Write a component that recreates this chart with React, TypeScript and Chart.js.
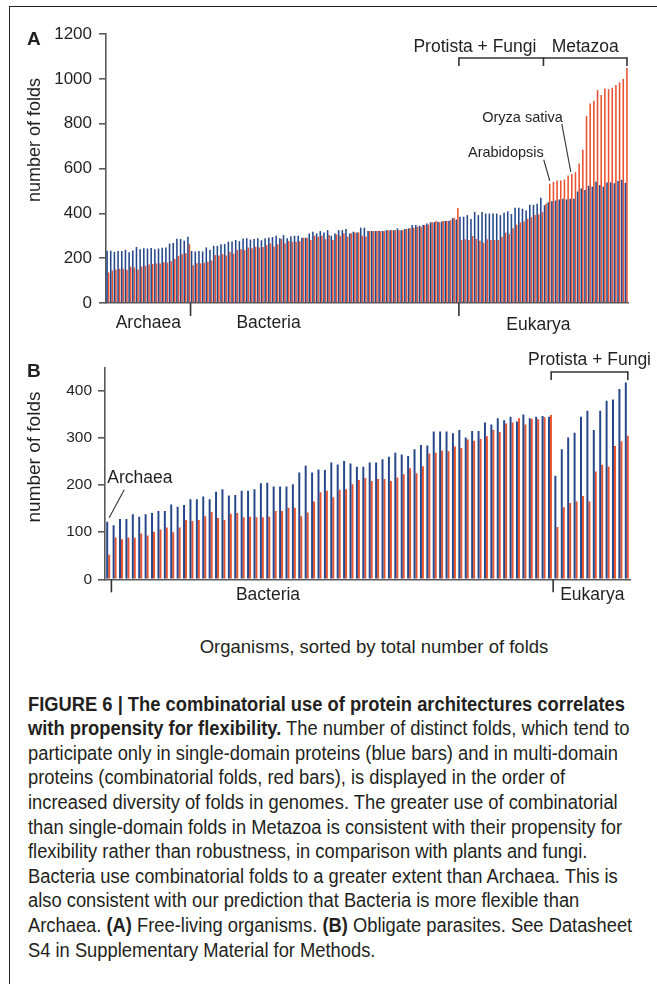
import React, { useEffect, useLayoutEffect, useRef, useState } from "react";
import { Chart, registerables } from "chart.js";
Chart.register(...registerables);

const FONT = '"Liberation Sans", Arial, Helvetica, sans-serif';
const INK = "#231f20";
const AXIS = "#58595b";
const BLUE = "#26488b";
const RED = "#e9532f";

// ---------- Panel A: free-living organisms (blue = single-domain folds, red = combinatorial folds)
const aArchaeaSingle = [233, 233, 228, 232, 232, 237, 226, 234, 250, 240, 244, 243, 245, 240, 243, 247, 248, 265, 268, 287, 286, 278, 295];
const aArchaeaComb = [136, 145, 150, 153, 153, 148, 162, 158, 150, 163, 166, 172, 174, 177, 176, 182, 180, 187, 196, 210, 218, 222, 262];

const aBacteriaSingle = [
  232, 230, 232, 230, 248, 238, 255, 255, 262, 263, 274, 274, 281, 276, 288, 289, 283, 285, 289, 280, 289, 292, 294, 300,
  289, 303, 289, 298, 300, 300, 291, 291, 310, 318, 310, 321, 315, 325, 300, 310, 325, 325, 330, 310,
  318, 315, 336, 336, 321, 321, 321, 321, 321, 325, 325, 325, 333, 325, 330, 333, 348, 348, 345, 348,
  355, 360, 360, 363, 363, 366, 366, 378, 372,
];
const aBacteriaComb = [
  168, 177, 177, 180, 184, 190, 214, 212, 218, 212, 228, 220, 236, 240, 236, 247, 244, 251, 248, 250, 258, 266, 252, 262,
  285, 266, 276, 273, 273, 276, 291, 291, 281, 300, 296, 300, 285, 303, 281, 306, 300, 311, 296, 311,
  315, 315, 300, 296, 321, 321, 321, 321, 321, 325, 325, 325, 325, 325, 330, 333, 336, 340, 340, 348,
  350, 360, 366, 360, 366, 366, 370, 380, 424,
];

const aProtistaSingle = [385, 385, 392, 375, 406, 392, 406, 399, 399, 399, 399, 392, 403, 409, 397, 425, 425, 421, 413, 438, 438, 443, 470];
const aProtistaComb = [281, 284, 281, 299, 286, 278, 269, 284, 281, 281, 281, 296, 314, 308, 333, 349, 359, 364, 376, 383, 393, 396, 406];

const aMetazoaSingle = [436, 450, 454, 457, 462, 465, 462, 465, 465, 497, 511, 504, 523, 519, 541, 526, 519, 538, 538, 534, 544, 549, 536];
const aMetazoaComb = [443, 532, 540, 546, 547, 551, 569, 576, 584, 622, 684, 834, 890, 902, 950, 928, 957, 954, 960, 972, 984, 1000, 1048];

const aYTicks = [0, 200, 400, 600, 800, 1000, 1200];
const aArabidopsisIdx = 1; // within Metazoa bracket block
const aOryzaIdx = 7;

// ---------- Panel B: obligate parasites
const bArchaeaSingle = [122];
const bArchaeaComb = [52];
const bBacteriaSingle = [
  115, 128, 128, 138, 133, 138, 141, 145, 145, 159, 154, 158, 170, 170, 176, 170, 186, 191, 178, 179,
  188, 188, 191, 204, 205, 197, 197, 197, 202, 227, 241, 227, 233, 232, 248, 244, 251, 246, 239, 239,
  248, 248, 255, 260, 269, 265, 262, 276, 285, 284, 314, 314, 314, 310, 317, 301, 315, 315, 333, 329,
  342, 338, 345, 335, 350, 342, 345, 347, 345,
];
const bBacteriaComb = [
  89, 85, 89, 88, 97, 93, 101, 106, 110, 100, 110, 126, 124, 126, 134, 143, 130, 126, 139, 141,
  132, 133, 132, 132, 133, 145, 145, 152, 152, 134, 142, 165, 185, 188, 174, 190, 191, 202, 211, 215,
  209, 213, 213, 209, 216, 223, 236, 225, 240, 267, 269, 273, 272, 282, 279, 297, 294, 298, 304, 317,
  313, 331, 333, 342, 329, 341, 340, 344, 349,
];
const bEukaryaSingle = [220, 276, 301, 311, 345, 358, 317, 358, 379, 382, 404, 418];
const bEukaryaComb = [111, 153, 162, 165, 177, 165, 229, 243, 239, 283, 293, 305];
const bYTicks = [0, 100, 200, 300, 400];

const aSingle = [...aArchaeaSingle, ...aBacteriaSingle, ...aProtistaSingle, ...aMetazoaSingle];
const aComb = [...aArchaeaComb, ...aBacteriaComb, ...aProtistaComb, ...aMetazoaComb];
const aLabels = aSingle.map((_, i) => String(i + 1));
const bSingle = [...bArchaeaSingle, ...bBacteriaSingle, ...bEukaryaSingle];
const bComb = [...bArchaeaComb, ...bBacteriaComb, ...bEukaryaComb];
const bLabels = bSingle.map((_, i) => String(i + 1));

function line(ctx: CanvasRenderingContext2D, x1: number, y1: number, x2: number, y2: number) {
  ctx.beginPath();
  ctx.moveTo(x1, y1);
  ctx.lineTo(x2, y2);
  ctx.stroke();
}

function edgeFn(chart: any) {
  const x = chart.scales.x;
  const pitch = x.getPixelForValue(1) - x.getPixelForValue(0);
  return (i: number) => x.getPixelForValue(i) - pitch / 2;
}

const annotA = {
  id: "annotA",
  afterDraw(chart: any) {
    const { ctx, chartArea } = chart;
    const edge = edgeFn(chart);
    const nArc = aArchaeaSingle.length;
    const eukStart = nArc + aBacteriaSingle.length;
    const metStart = eukStart + aProtistaSingle.length;
    const b = chartArea.bottom;
    ctx.save();
    ctx.strokeStyle = "#333";
    ctx.lineWidth = 1.6;
    line(ctx, edge(nArc), b, edge(nArc), b + 13);
    line(ctx, edge(eukStart), b, edge(eukStart), b + 13);
    ctx.fillStyle = INK;
    ctx.textBaseline = "middle";
    ctx.textAlign = "center";
    ctx.font = `17.5px ${FONT}`;
    ctx.fillText("Archaea", (edge(0) + edge(nArc)) / 2, b + 20);
    ctx.fillText("Bacteria", edge(nArc) + 78, b + 20);
    ctx.fillText("Eukarya", (edge(eukStart) + chartArea.right) / 2 - 5, b + 22);
    // bracket
    const yb = 58;
    const right = chartArea.right - 1;
    line(ctx, edge(eukStart), yb, right, yb);
    [edge(eukStart), edge(metStart), right].forEach((xx) => line(ctx, xx, yb - 0.8, xx, yb + 8));
    ctx.textAlign = "right";
    ctx.fillText("Protista + Fungi", edge(metStart) - 7, 47);
    ctx.textAlign = "center";
    ctx.fillText("Metazoa", (edge(metStart) + right) / 2, 47);
    // annotations
    const red = chart.getDatasetMeta(1).data;
    ctx.lineWidth = 1.1;
    ctx.font = `14.5px ${FONT}`;
    const o = red[metStart + aOryzaIdx];
    line(ctx, o.x - 10, o.y - 50, o.x - 1, o.y - 2);
    ctx.textAlign = "right";
    ctx.fillText("Oryza sativa", o.x - 9, o.y - 56);
    const ar = red[metStart + aArabidopsisIdx];
    line(ctx, ar.x - 6, ar.y - 24, ar.x, ar.y - 3);
    ctx.fillText("Arabidopsis", ar.x - 6, ar.y - 31);
    // panel letter & y title
    ctx.textAlign = "left";
    ctx.font = `bold 19px ${FONT}`;
    ctx.fillText("A", 27, 40);
    ctx.translate(35, 140);
    ctx.rotate(-Math.PI / 2);
    ctx.textAlign = "center";
    ctx.font = `18px ${FONT}`;
    ctx.fillText("number of folds", 0, 0);
    ctx.restore();
  },
};

const annotB = {
  id: "annotB",
  afterDraw(chart: any) {
    const { ctx, chartArea } = chart;
    const edge = edgeFn(chart);
    const nArc = bArchaeaSingle.length;
    const eukStart = nArc + bBacteriaSingle.length;
    const b = chartArea.bottom;
    ctx.save();
    ctx.strokeStyle = "#333";
    ctx.lineWidth = 1.6;
    line(ctx, edge(nArc), b, edge(nArc), b + 13);
    line(ctx, edge(eukStart), b, edge(eukStart), b + 13);
    ctx.fillStyle = INK;
    ctx.textBaseline = "middle";
    ctx.font = `17.5px ${FONT}`;
    ctx.textAlign = "center";
    ctx.fillText("Bacteria", 268, b + 16);
    ctx.textAlign = "left";
    ctx.fillText("Eukarya", edge(eukStart) + 7, b + 16);
    // Archaea callout
    const blue = chart.getDatasetMeta(0).data;
    const a0 = blue[0];
    ctx.lineWidth = 1.1;
    line(ctx, a0.x + 2, a0.y - 4, a0.x + 17, a0.y - 32);
    ctx.fillText("Archaea", a0.x, a0.y - 44);
    // bracket
    const last = blue[blue.length - 1];
    const yb = 32;
    const l = edge(eukStart) - 2;
    const r = last.x + 2;
    ctx.lineWidth = 1.6;
    line(ctx, l, yb, r, yb);
    line(ctx, l, yb - 0.8, l, yb + 8);
    line(ctx, r, yb - 0.8, r, yb + 8);
    ctx.textAlign = "center";
    ctx.fillText("Protista + Fungi", (l + r) / 2, 20);
    // letter & title
    ctx.textAlign = "left";
    ctx.font = `bold 19px ${FONT}`;
    ctx.fillText("B", 27, 32);
    ctx.translate(35, 117);
    ctx.rotate(-Math.PI / 2);
    ctx.textAlign = "center";
    ctx.font = `19px ${FONT}`;
    ctx.fillText("number of folds", 0, 0);
    ctx.restore();
  },
};

function makeOptions(opts: {
  top: number;
  right: number;
  xHeight: number;
  yWidth: number;
  max: number;
  step: number;
  tickSize: number;
  tickPad: number;
  catPct: number;
}) {
  return {
    responsive: false,
    animation: false as const,
    events: [],
    layout: { padding: { left: 0, right: opts.right, top: opts.top, bottom: 0 } },
    plugins: { legend: { display: false }, tooltip: { enabled: false }, title: { display: false } },
    datasets: { bar: { categoryPercentage: opts.catPct, barPercentage: 1, borderWidth: 0 } },
    scales: {
      x: {
        type: "category" as const,
        offset: true,
        grid: { display: false },
        ticks: { display: false },
        border: { display: true, color: AXIS, width: 1.6 },
        afterFit: (s: any) => {
          s.height = opts.xHeight;
        },
      },
      y: {
        min: 0,
        max: opts.max,
        ticks: {
          stepSize: opts.step,
          includeBounds: false,
          padding: opts.tickPad,
          color: INK,
          font: { family: FONT, size: opts.tickSize },
          callback: (v: any) => String(v),
        },
        grid: { drawOnChartArea: false, drawTicks: true, tickLength: 7, color: AXIS, lineWidth: 1.6 },
        border: { display: true, color: AXIS, width: 1.6 },
        afterFit: (s: any) => {
          s.width = opts.yWidth;
        },
      },
    },
  };
}

function BarPanel(props: {
  labels: string[];
  single: number[];
  comb: number[];
  ticks: number[];
  plugin: any;
  width: number;
  height: number;
  top: number;
  opts: any;
}) {
  const ref = useRef<HTMLCanvasElement>(null);
  useEffect(() => {
    if (!ref.current) return;
    const chart = new Chart(ref.current, {
      type: "bar",
      data: {
        labels: props.labels,
        datasets: [
          { label: "single-domain folds", data: props.single, backgroundColor: BLUE },
          { label: "combinatorial folds", data: props.comb, backgroundColor: RED },
        ],
      },
      options: props.opts,
      plugins: [props.plugin],
    } as any);
    return () => chart.destroy();
  }, []);
  return (
    <canvas
      ref={ref}
      width={props.width}
      height={props.height}
      style={{ position: "absolute", left: 0, top: props.top, width: props.width, height: props.height }}
    />
  );
}

const captionLines: React.ReactNode[] = [
  <b>FIGURE 6 | The combinatorial use of protein architectures correlates</b>,
  <>
    <b>with propensity for flexibility.</b> The number of distinct folds, which tend to
  </>,
  "participate only in single-domain proteins (blue bars) and in multi-domain",
  "proteins (combinatorial folds, red bars), is displayed in the order of",
  "increased diversity of folds in genomes. The greater use of combinatorial",
  "than single-domain folds in Metazoa is consistent with their propensity for",
  "flexibility rather than robustness, in comparison with plants and fungi.",
  "Bacteria use combinatorial folds to a greater extent than Archaea. This is",
  "also consistent with our prediction that Bacteria is more flexible than",
  <>
    Archaea. <b>(A)</b> Free-living organisms. <b>(B)</b> Obligate parasites. See Datasheet
  </>,
  "S4 in Supplementary Material for Methods.",
];

function Caption() {
  const ref = useRef<HTMLSpanElement>(null);
  const [k, setK] = useState(1);
  useLayoutEffect(() => {
    const el = ref.current;
    if (!el) return;
    const w = el.getBoundingClientRect().width;
    if (w > 0) setK(590 / w);
  }, []);
  return (
    <div
      style={{
        position: "absolute",
        left: 28,
        top: 691.7,
        fontSize: 20,
        lineHeight: "24.6px",
        color: INK,
        whiteSpace: "nowrap",
        transform: `scaleX(${k})`,
        transformOrigin: "0 0",
      }}
    >
      {captionLines.map((ln, i) => (
        <div key={i}>
          {i === 2 ? <span ref={ref}>{ln}</span> : ln}
        </div>
      ))}
    </div>
  );
}

export default function App() {
  const optsA = makeOptions({ top: 34, right: 29, xHeight: 37, yWidth: 106, max: 1200, step: 200, tickSize: 17, tickPad: 7, catPct: 0.85 });
  const optsB = makeOptions({ top: 27.4, right: 27, xHeight: 50.7, yWidth: 105, max: 450, step: 100, tickSize: 15.5, tickPad: 6, catPct: 0.62 });
  return (
    <div
      style={{
        position: "absolute",
        left: 0,
        top: 0,
        width: 657,
        height: 984,
        overflow: "hidden",
        background: "#fff",
        fontFamily: FONT,
        color: INK,
      }}
    >
      <div
        style={{
          position: "absolute",
          left: 9,
          top: 6,
          width: 720,
          height: 1020,
          border: "1.6px solid #222",
          boxSizing: "border-box",
        }}
      />
      <BarPanel labels={aLabels} single={aSingle} comb={aComb} ticks={aYTicks} plugin={annotA} width={657} height={340} top={0} opts={optsA} />
      <BarPanel labels={bLabels} single={bSingle} comb={bComb} ticks={bYTicks} plugin={annotB} width={657} height={290} top={340} opts={optsB} />
      <div
        style={{
          position: "absolute",
          left: 0,
          width: 748,
          top: 636,
          textAlign: "center",
          fontSize: 18.5,
          lineHeight: "22px",
          color: INK,
        }}
      >
        Organisms, sorted by total number of folds
      </div>
      <Caption />
    </div>
  );
}
